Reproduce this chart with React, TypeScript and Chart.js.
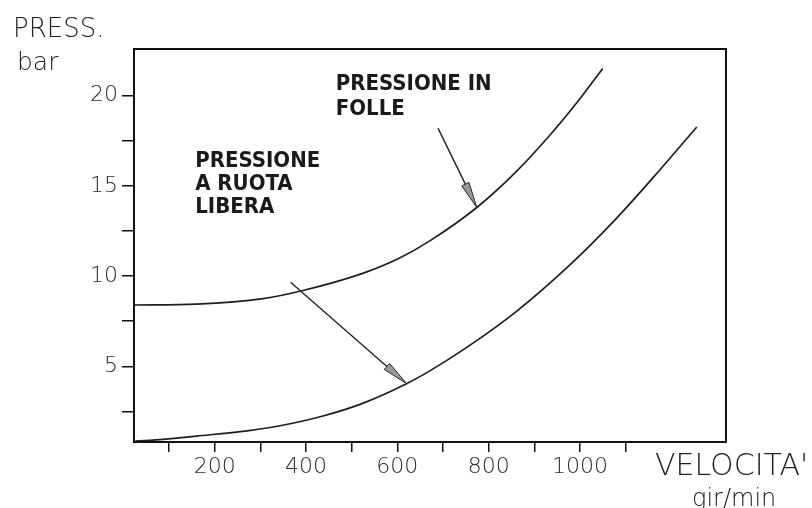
import React, { useEffect, useRef } from 'react';
import { Chart, registerables } from 'chart.js';

Chart.register(...registerables);

// ---- data ----
const speedFolle = [23, 161, 306, 393, 524, 605, 671, 774, 861, 934, 993, 1050];
const pressFolle = [8.4, 8.45, 8.75, 9.2, 10.15, 11.0, 11.95, 13.8, 15.8, 17.8, 19.6, 21.5];

const speedLibera = [26, 87, 161, 271, 343, 437, 524, 621, 671, 752, 861, 975, 1080, 1174, 1256];
const pressLibera = [0.86, 0.96, 1.14, 1.43, 1.71, 2.25, 2.95, 4.05, 4.75, 6.05, 8.05, 10.55, 13.2, 15.85, 18.26];

const xTickValues = [100, 200, 300, 400, 500, 600, 700, 800, 900, 1000, 1100];
const xTickLabels = [200, 400, 600, 800, 1000];
const yTickValues = [2.5, 5, 7.5, 10, 12.5, 15, 17.5, 20];
const yTickLabels = [5, 10, 15, 20];

const X_MIN = 23;
const X_MAX = 1320;
const Y_MIN = 0.81;
const Y_MAX = 22.58;

// annotation texts (anchor = left / baseline of first line, in data units)
const noteLiberaLines = ['PRESSIONE', 'A RUOTA', 'LIBERA'];
const noteLiberaAnchor = [157, 16.06];
const noteFolleLines = ['PRESSIONE IN', 'FOLLE'];
const noteFolleAnchor = [465, 20.31];

// arrows: from -> to (data units)
const arrowFolle = [[689, 18.2], [774, 13.8]];
const arrowLibera = [[366, 9.66], [620, 4.05]];

const TICK_FONT = { family: '"DejaVu Sans", sans-serif', size: 22, weight: '200' as const };

function drawArrow(ctx: CanvasRenderingContext2D, x0: number, y0: number, x1: number, y1: number) {
  const dx = x1 - x0;
  const dy = y1 - y0;
  const len = Math.hypot(dx, dy);
  const ux = dx / len;
  const uy = dy / len;
  const headLen = 26;
  const halfW = 4;
  const bx = x1 - ux * headLen;
  const by = y1 - uy * headLen;
  ctx.beginPath();
  ctx.moveTo(x0, y0);
  ctx.lineTo(bx, by);
  ctx.strokeStyle = '#222';
  ctx.lineWidth = 1.4;
  ctx.stroke();
  ctx.beginPath();
  ctx.moveTo(x1, y1);
  ctx.lineTo(bx - uy * halfW, by + ux * halfW);
  ctx.lineTo(bx + uy * halfW, by - ux * halfW);
  ctx.closePath();
  ctx.fillStyle = '#999';
  ctx.fill();
  ctx.lineWidth = 1;
  ctx.strokeStyle = '#222';
  ctx.stroke();
}

const overlayPlugin = {
  id: 'overlay',
  afterDraw(chart: any) {
    const { ctx, chartArea: a, scales } = chart;
    const xs = scales.x;
    const ys = scales.y;
    ctx.save();
    // frame
    ctx.strokeStyle = '#111';
    ctx.lineWidth = 2;
    ctx.strokeRect(a.left, a.top, a.right - a.left, a.bottom - a.top);

    // arrows
    [arrowFolle, arrowLibera].forEach((ar) => {
      drawArrow(
        ctx,
        xs.getPixelForValue(ar[0][0]),
        ys.getPixelForValue(ar[0][1]),
        xs.getPixelForValue(ar[1][0]),
        ys.getPixelForValue(ar[1][1])
      );
    });

    // annotation texts
    ctx.fillStyle = '#1a1a1a';
    ctx.textBaseline = 'alphabetic';
    ctx.textAlign = 'left';
    try { (ctx as any).fontStretch = 'condensed'; } catch (e) {}
    ctx.font = 'bold 22px "DejaVu Sans Condensed", "DejaVu Sans", sans-serif';
    const lx = xs.getPixelForValue(noteLiberaAnchor[0]);
    const ly = ys.getPixelForValue(noteLiberaAnchor[1]);
    noteLiberaLines.forEach((t, i) => ctx.fillText(t, lx, ly + i * 23.3));
    const fx = xs.getPixelForValue(noteFolleAnchor[0]);
    const fy = ys.getPixelForValue(noteFolleAnchor[1]);
    noteFolleLines.forEach((t, i) => ctx.fillText(t, fx, fy + i * 25.5));
    try { (ctx as any).fontStretch = 'normal'; } catch (e) {}

    // axis titles
    ctx.fillStyle = '#222';
    ctx.font = '200 26px "DejaVu Sans", sans-serif';
    ctx.fillText('PRESS.', a.left - 121, a.top - 12);
    ctx.font = '200 25px "DejaVu Sans", sans-serif';
    ctx.fillText('bar', a.left - 117, a.top + 21);
    ctx.font = '200 30px "DejaVu Sans", sans-serif';
    ctx.fillText("VELOCITA'", a.right - 71, a.bottom + 33);
    ctx.font = '200 24px "DejaVu Sans", sans-serif';
    ctx.fillText('gir/min', a.right - 34, a.bottom + 64);
    ctx.restore();
  },
};

export default function App() {
  const canvasRef = useRef<HTMLCanvasElement | null>(null);

  useEffect(() => {
    document.body.style.margin = '0';
    const canvas = canvasRef.current;
    if (!canvas) return;
    const chart = new Chart(canvas, {
      type: 'line',
      data: {
        datasets: [
          {
            label: 'Pressione in folle',
            data: speedFolle.map((v, i) => ({ x: v, y: pressFolle[i] })),
            borderColor: '#1e1e1e',
            borderWidth: 1.7,
            pointRadius: 0,
            fill: false,
            cubicInterpolationMode: 'monotone',
          },
          {
            label: 'Pressione a ruota libera',
            data: speedLibera.map((v, i) => ({ x: v, y: pressLibera[i] })),
            borderColor: '#1e1e1e',
            borderWidth: 1.7,
            pointRadius: 0,
            fill: false,
            cubicInterpolationMode: 'monotone',
          },
        ],
      },
      options: {
        animation: false,
        responsive: false,
        layout: { padding: { top: 49, right: 86, left: 0, bottom: 0 } },
        plugins: {
          legend: { display: false },
          tooltip: { enabled: false },
        },
        scales: {
          x: {
            type: 'linear',
            min: X_MIN,
            max: X_MAX,
            afterBuildTicks: (scale: any) => {
              scale.ticks = xTickValues.map((v) => ({ value: v }));
            },
            afterFit: (scale: any) => {
              scale.height = 66;
            },
            ticks: {
              autoSkip: false,
              maxRotation: 0,
              padding: 2,
              color: '#2a2a2a',
              font: TICK_FONT,
              callback: (v: any) => (xTickLabels.includes(Number(v)) ? String(v) : ''),
            },
            grid: {
              drawOnChartArea: false,
              drawTicks: true,
              tickLength: 10,
              color: '#111',
              tickColor: '#111',
              lineWidth: 1.5,
            },
            border: { display: false },
          },
          y: {
            type: 'linear',
            min: Y_MIN,
            max: Y_MAX,
            afterBuildTicks: (scale: any) => {
              scale.ticks = yTickValues.map((v) => ({ value: v }));
            },
            afterFit: (scale: any) => {
              scale.width = 134;
            },
            ticks: {
              autoSkip: false,
              padding: 4,
              color: '#2a2a2a',
              font: TICK_FONT,
              callback: (v: any) => (yTickLabels.includes(Number(v)) ? String(v) : ''),
            },
            grid: {
              drawOnChartArea: false,
              drawTicks: true,
              tickLength: 12,
              color: '#111',
              tickColor: '#111',
              lineWidth: 1.5,
            },
            border: { display: false },
          },
        },
      },
      plugins: [overlayPlugin],
    } as any);
    return () => chart.destroy();
  }, []);

  return (
    <div style={{ width: 812, height: 508 }}>
      <canvas ref={canvasRef} width={812} height={508} />
    </div>
  );
}
